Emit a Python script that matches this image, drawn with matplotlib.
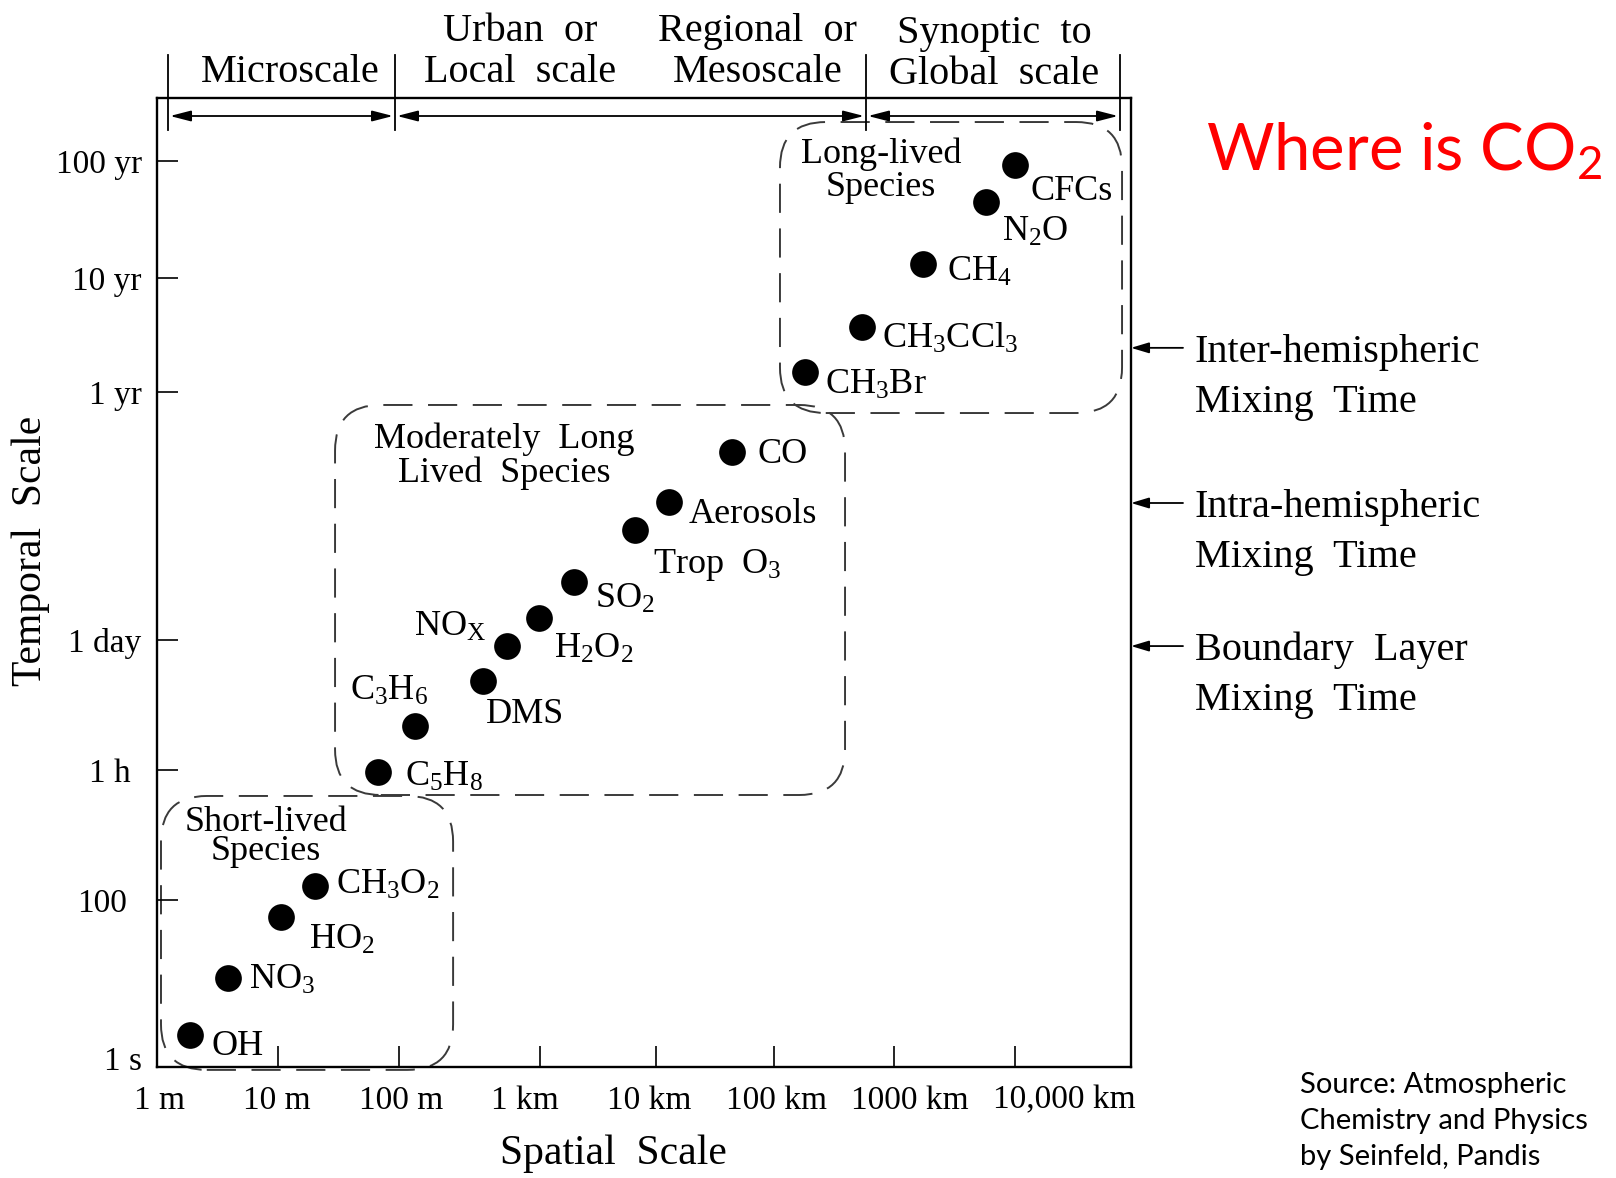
import numpy as np
import matplotlib
matplotlib.use("Agg")
import matplotlib.pyplot as plt
import matplotlib.transforms as mtransforms
from matplotlib.patches import FancyBboxPatch
from matplotlib.lines import Line2D
from matplotlib.ticker import FixedLocator, FixedFormatter, NullLocator

W, H, DPI = 1616, 1178, 100
YEAR = 3.156e7  # seconds

# ---------------------------------------------------------------- data
species = ["OH", "NO$_3$", "HO$_2$", "CH$_3$O$_2$",
           "C$_5$H$_8$", "C$_3$H$_6$", "DMS", "NO$_X$", "H$_2$O$_2$",
           "SO$_2$", "Trop  O$_3$", "Aerosols", "CO",
           "CH$_3$Br", "CH$_3$CCl$_3$", "CH$_4$", "N$_2$O", "CFCs"]
spatial_scale_m = [1.87, 3.86, 10.6, 20.2,
                   67, 130, 394, 583, 984,
                   1960, 6590, 12900, 44000,
                   1.81e5, 5.41e5, 1.74e6, 5.75e6, 1.0e7]
lifetime_s = [2.4, 11.6, 63, 147,
              3400, 10500, 31700, 74500, 145600,
              343000, 1.18e6, 2.3e6, 7.57e6,
              4.7e7, 1.17e8, 4.17e8, 1.42e9, 2.9e9]

x_tick_values = [1, 10, 100, 1e3, 1e4, 1e5, 1e6, 1e7]
x_tick_labels = ["1 m", "10 m", "100 m", "1 km", "10 km",
                 "100 km", "1000 km", "10,000 km"]
y_tick_values = [1, 100, 3600, 86400, YEAR, 10 * YEAR, 100 * YEAR]
y_tick_labels = ["1 s", "100", "1 h", "1 day", "1 yr", "10 yr", "100 yr"]

scale_regions = ["Microscale", "Urban  or\nLocal  scale",
                 "Regional  or\nMesoscale", "Synoptic  to\nGlobal  scale"]

mixing_names = ["Inter-hemispheric\nMixing  Time",
                "Intra-hemispheric\nMixing  Time",
                "Boundary  Layer\nMixing  Time"]
mixing_times_s = [7.7e7, 2.25e6, 7.45e4]

group_titles = ["Short-lived\nSpecies", "Moderately  Long\nLived  Species",
                "Long-lived\nSpecies"]

# ---------------------------------------------------------------- axis calibration (hand-drawn decades)
x_cal_log = [0, 1, 2, 3, 4, 5, 6, 7, 8]
x_cal_pos = [0, 121, 242, 383, 499, 617, 737, 858, 974]
y_cal_log = [0, 2, np.log10(3600), np.log10(86400), np.log10(YEAR),
             np.log10(10 * YEAR), np.log10(100 * YEAR), 10.05]
y_cal_pos = [0, 167, 297, 427, 675, 789, 906, 969]


def calibrated_scale(logs, pos):
    logs = np.asarray(logs, float)
    pos = np.asarray(pos, float)

    def fwd(v):
        v = np.asarray(v, float)
        with np.errstate(divide="ignore", invalid="ignore"):
            lv = np.log10(np.where(v > 0, v, np.nan))
        return np.interp(lv, logs, pos)

    def inv(p):
        return 10.0 ** np.interp(np.asarray(p, float), pos, logs)

    return fwd, inv


SERIF = "Liberation Serif"
plt.rcParams["font.family"] = SERIF
plt.rcParams["mathtext.default"] = "regular"

fig = plt.figure(figsize=(W / DPI, H / DPI), dpi=DPI)
fig.patch.set_facecolor("white")


def fx(x):
    return x / W


def fy(y):
    return 1 - y / H


ax = fig.add_axes([fx(157), fy(1067), (1131 - 157) / W, (1067 - 98) / H])
ax.set_xscale("function", functions=calibrated_scale(x_cal_log, x_cal_pos))
ax.set_yscale("function", functions=calibrated_scale(y_cal_log, y_cal_pos))
ax.set_xlim(1, 1e8)
ax.set_ylim(1, 10 ** 10.05)

for side in ["top", "right", "bottom", "left"]:
    ax.spines[side].set_linewidth(1.7)
    ax.spines[side].set_zorder(6)

ax.xaxis.set_major_locator(FixedLocator(x_tick_values))
ax.xaxis.set_major_formatter(FixedFormatter(x_tick_labels))
ax.yaxis.set_major_locator(FixedLocator(y_tick_values))
ax.yaxis.set_major_formatter(FixedFormatter(y_tick_labels))
ax.xaxis.set_minor_locator(NullLocator())
ax.yaxis.set_minor_locator(NullLocator())
ax.tick_params(axis="both", direction="in", length=15, width=1.2,
               colors="black", labelsize=24)
ax.tick_params(axis="x", pad=13)
ax.tick_params(axis="y", pad=11)
fig.canvas.draw()

# nudge individual tick labels (pixels)
x_label_shift = [3, -1, 2, -15, -7, 2, 16, 49]
y_label_shift = [(0, 9), (-15, 0), (-11, 0), (0, 0), (0, 0), (0, 0), (0, 0)]
for lab, dx in zip(ax.get_xticklabels(), x_label_shift):
    lab.set_transform(lab.get_transform() + mtransforms.ScaledTranslation(
        dx / DPI, 0, fig.dpi_scale_trans))
for lab, (dx, dy) in zip(ax.get_yticklabels(), y_label_shift):
    lab.set_transform(lab.get_transform() + mtransforms.ScaledTranslation(
        dx / DPI, dy / DPI, fig.dpi_scale_trans))

ax.set_xlabel("Spatial  Scale", fontsize=30)
ax.set_ylabel("Temporal  Scale", fontsize=30)
ax.xaxis.set_label_coords((613 - 157) / 974, (1067 - 1154) / 969)
ax.yaxis.set_label_coords((31 - 157) / 974, (1067 - 551) / 969)
ax.xaxis.label.set_va("center")
ax.yaxis.label.set_va("center")

# ---------------------------------------------------------------- species groups (dashed rounded boxes, axes fraction)
boxes = [(0.0041, -0.003, 0.304, 0.2797),
         (0.1828, 0.2807, 0.7064, 0.6832),
         (0.6396, 0.6749, 0.9908, 0.9752)]
for (x0, y0, x1, y1) in boxes:
    ax.add_patch(FancyBboxPatch((x0, y0), x1 - x0, y1 - y0,
                                boxstyle="round,pad=0,rounding_size=0.047",
                                transform=ax.transAxes, fill=False,
                                edgecolor="#3a3a3a", linewidth=1.4,
                                linestyle=(0, (15, 8)), clip_on=False))

title_pos = [(266, 837, 0.85), (504, 456, 1.0), (881, 171, 1.0)]
for title, (px, py, ls) in zip(group_titles, title_pos):
    fig.text(fx(px), fy(py), title, ha="center", va="center",
             fontsize=26, linespacing=ls, multialignment="center")

# ---------------------------------------------------------------- species points
ax.scatter(spatial_scale_m, lifetime_s, s=370, color="black", zorder=5,
           clip_on=False, linewidths=0)

label_offsets = [(22, 9, "left"), (21, 0, "left"), (28, 21, "left"),
                 (21, -3, "left"), (27, 3, "left"), (13, -37, "right"),
                 (3, 31, "left"), (-21, -21, "right"), (15, 29, "left"),
                 (21, 15, "left"), (18, 32, "left"), (20, 10, "left"),
                 (26, 0, "left"), (20, 11, "left"), (20, 10, "left"),
                 (24, 6, "left"), (16, 28, "left"), (15, 24, "left")]
for name, xs, ts, (dx, dy, ha) in zip(species, spatial_scale_m, lifetime_s,
                                      label_offsets):
    ax.annotate(name, (xs, ts), xytext=(dx, -dy - 11),
                textcoords="offset pixels", ha=ha, va="baseline",
                fontsize=26, annotation_clip=False)

# ---------------------------------------------------------------- scale regions above the frame
sep_x = [168, 395, 866, 1120]
for sx in sep_x:
    fig.add_artist(Line2D([fx(sx), fx(sx)], [fy(55), fy(130)],
                          transform=fig.transFigure, color="black", lw=1.3))
for a, b in zip(sep_x[:-1], sep_x[1:]):
    ax.annotate("", xy=(a + 2, H - 116), xycoords="figure pixels",
                xytext=(b - 2, H - 116), textcoords="figure pixels",
                arrowprops=dict(arrowstyle="<|-|>,head_length=0.7,head_width=0.18",
                                mutation_scale=18, color="black", lw=1.3,
                                shrinkA=0, shrinkB=0))
region_pos = [(290, 73), (520, 52), (758, 52), (994, 54)]
for text, (px, py) in zip(scale_regions, region_pos):
    fig.text(fx(px), fy(py), text, ha="center", va="center", fontsize=29,
             linespacing=1.16, multialignment="center")

# ---------------------------------------------------------------- mixing times on the right
ytrans = mtransforms.blended_transform_factory(ax.transAxes, ax.transData)
for name, t in zip(mixing_names, mixing_times_s):
    ax.annotate("", xy=(1.0, t), xycoords=ytrans, xytext=(52, 0),
                textcoords="offset pixels",
                arrowprops=dict(arrowstyle="-|>,head_length=0.6,head_width=0.18",
                                mutation_scale=18, color="black", lw=1.3,
                                shrinkA=0, shrinkB=0))
    ax.annotate(name, xy=(1.0, t), xycoords=ytrans, xytext=(64, -64),
                textcoords="offset pixels", ha="left", va="baseline",
                fontsize=29, linespacing=1.45, annotation_clip=False)

# ---------------------------------------------------------------- side notes
fig.text(fx(1206), fy(151), "Where is CO$_2$", family="Lato", color="#ff0000",
         fontsize=47, ha="left", va="center")
fig.text(fx(1300), fy(1121),
         "Source: Atmospheric\nChemistry and Physics\nby Seinfeld, Pandis",
         family="Lato", fontsize=21, ha="left", va="center", linespacing=1.5)

fig.savefig("out.png", dpi=DPI, facecolor="white")
